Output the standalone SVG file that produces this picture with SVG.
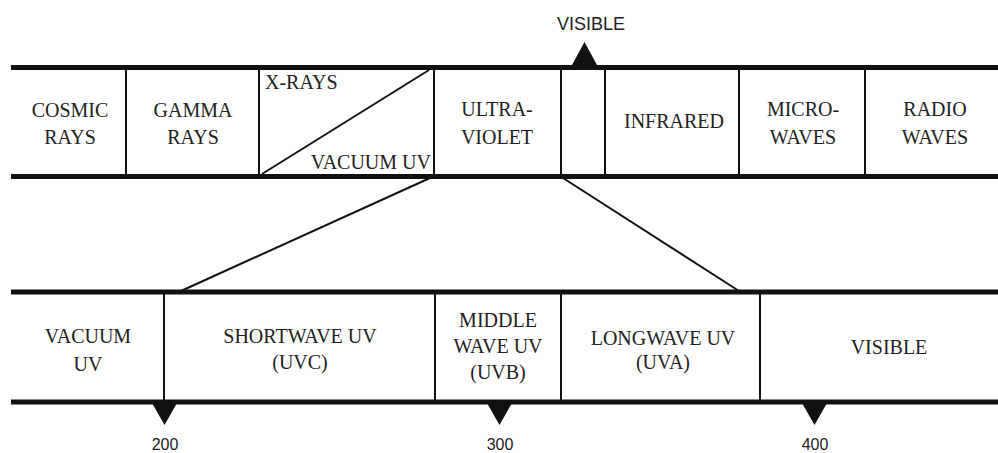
<svg xmlns="http://www.w3.org/2000/svg" width="998" height="453" viewBox="0 0 998 453">
<style>
.band{stroke:#111;stroke-width:5;fill:none}
.div{stroke:#111;stroke-width:2;fill:none}
.conn{stroke:#111;stroke-width:2;fill:none}
text.t{font-family:'Liberation Serif','Times New Roman','DejaVu Serif',serif;font-size:20px;fill:#222;text-anchor:middle}
text.s{font-family:'Liberation Sans',Arial,sans-serif;font-size:18px;fill:#222;text-anchor:middle}
.tri{fill:#111}
</style>
<rect width="998" height="453" fill="#fff"/>
<g id="bands">
<line class="band" x1="11" y1="67.5" x2="998" y2="67.5"/>
<line class="band" x1="11" y1="176.5" x2="998" y2="176.5"/>
<line class="band" x1="11" y1="292" x2="998" y2="292"/>
<line class="band" x1="11" y1="402" x2="998" y2="402"/>
</g>
<g id="top-dividers">
<line class="div" x1="126" y1="68" x2="126" y2="176"/>
<line class="div" x1="259" y1="68" x2="259" y2="176"/>
<line class="div" x1="434" y1="68" x2="434" y2="176"/>
<line class="div" x1="561" y1="68" x2="561" y2="176"/>
<line class="div" x1="605" y1="68" x2="605" y2="176"/>
<line class="div" x1="739" y1="68" x2="739" y2="176"/>
<line class="div" x1="865" y1="68" x2="865" y2="176"/>
</g>
<g id="bottom-dividers">
<line class="div" x1="164" y1="292" x2="164" y2="402"/>
<line class="div" x1="435" y1="292" x2="435" y2="402"/>
<line class="div" x1="561" y1="292" x2="561" y2="402"/>
<line class="div" x1="760" y1="292" x2="760" y2="402"/>
</g>
<g id="cosmic"><text class="t" x="70" y="117">COSMIC</text><text class="t" x="70" y="144">RAYS</text></g>
<g id="gamma"><text class="t" x="193" y="117">GAMMA</text><text class="t" x="193" y="144">RAYS</text></g>
<g id="xray-vuv">
<line class="div" x1="262" y1="174" x2="429" y2="70"/>
<text class="t" x="265" y="89" style="text-anchor:start">X-RAYS</text>
<text class="t" x="431" y="169" style="text-anchor:end">VACUUM UV</text>
</g>
<g id="ultraviolet"><text class="t" x="497" y="116">ULTRA-</text><text class="t" x="497" y="144">VIOLET</text></g>
<g id="visible-top">
<text class="s" x="591" y="30">VISIBLE</text>
<polygon class="tri" points="572,65 597,65 584.5,42"/>
</g>
<g id="infrared"><text class="t" x="674" y="128">INFRARED</text></g>
<g id="microwaves"><text class="t" x="803" y="116">MICRO-</text><text class="t" x="803" y="144">WAVES</text></g>
<g id="radio"><text class="t" x="935" y="116">RADIO</text><text class="t" x="935" y="144">WAVES</text></g>
<g id="connectors">
<line class="conn" x1="430" y1="178" x2="181" y2="291"/>
<line class="conn" x1="563" y1="178" x2="739" y2="291"/>
</g>
<g id="vacuum-uv"><text class="t" x="88" y="343">VACUUM</text><text class="t" x="88" y="371">UV</text></g>
<g id="uvc"><text class="t" x="300" y="343">SHORTWAVE UV</text><text class="t" x="300" y="369">(UVC)</text></g>
<g id="uvb"><text class="t" x="498" y="327">MIDDLE</text><text class="t" x="498" y="353">WAVE UV</text><text class="t" x="498" y="379">(UVB)</text></g>
<g id="uva"><text class="t" x="663" y="345">LONGWAVE UV</text><text class="t" x="663" y="369">(UVA)</text></g>
<g id="visible-bottom"><text class="t" x="889" y="354">VISIBLE</text></g>
<g id="ticks">
<polygon class="tri" points="152,403 177,403 164.5,425"/>
<polygon class="tri" points="487,403 512,403 499.5,425"/>
<polygon class="tri" points="802,403 827,403 814.5,425"/>
<text class="s" x="165" y="450" style="font-size:16px">200</text>
<text class="s" x="500" y="450" style="font-size:16px">300</text>
<text class="s" x="815" y="450" style="font-size:16px">400</text>
</g>
</svg>
